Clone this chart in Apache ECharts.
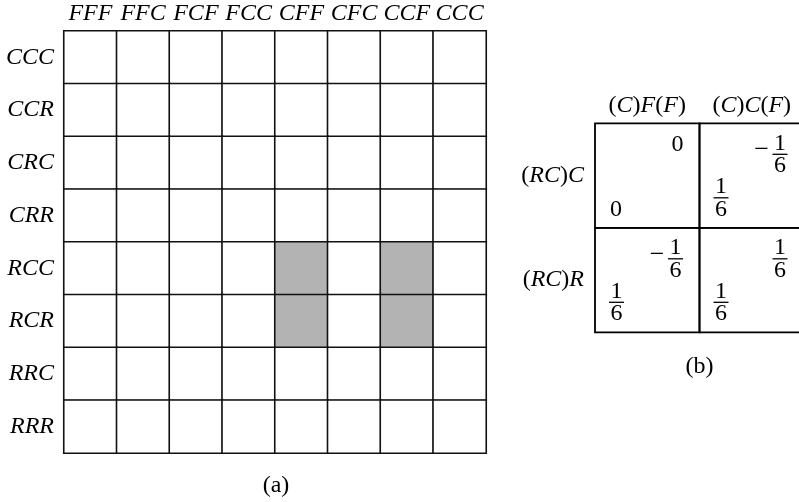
<!DOCTYPE html>
<html>
<head>
<meta charset="utf-8">
<script src="https://cdn.jsdelivr.net/npm/echarts@6/dist/echarts.min.js"></script>
<style>
html,body{margin:0;padding:0;background:#fff;}
#c{width:799px;height:502px;}
</style>
</head>
<body>
<div id="c"></div>
<script>
// ---- data ----
const colLabels = ['FFF','FFC','FCF','FCC','CFF','CFC','CCF','CCC'];
const rowLabels = ['CCC','CCR','CRC','CRR','RCC','RCR','RRC','RRR'];
const shadedCells = [[4,4],[6,4],[4,5],[6,5]]; // [column index, row index]

const bCols = ['(C)F(F)','(C)C(F)'];
const bRows = ['(RC)C','(RC)R'];
const rowPayoff = [['0','1/6'],['1/6','1/6']];   // lower-left entry of each cell
const colPayoff = [['0','-1/6'],['-1/6','1/6']]; // upper-right entry of each cell

const captions = ['(a)','(b)'];

// ---- build ----
const FONT = "'Liberation Serif', 'Times New Roman', serif";
const heatData = [];
for (let r = 0; r < rowLabels.length; r++) {
  for (let c = 0; c < colLabels.length; c++) {
    const s = shadedCells.some(p => p[0] === c && p[1] === r) ? 1 : 0;
    heatData.push([c, r, s]);
  }
}
const bData = [];
for (let r = 0; r < bRows.length; r++) for (let c = 0; c < bCols.length; c++) bData.push([c, r]);

const mathRich = {
  i: {fontFamily: FONT, fontStyle: 'italic', fontSize: 24, color: '#000'},
  p: {fontFamily: FONT, fontSize: 24, color: '#000'}
};
function mathFmt(s) {
  return s.replace(/([A-Z]+)/g, '{i|$1}').replace(/([()])/g, '{p|$1}');
}

function addEntry(children, str, cx, cy) {
  const m = str.match(/^(-?)(\d+)\/(\d+)$/);
  const ts = {fontFamily: FONT, fontSize: 24, fill: '#000', align: 'center', verticalAlign: 'middle'};
  if (!m) {
    children.push({type: 'text', x: cx, y: cy, style: Object.assign({text: str}, ts)});
    return;
  }
  const barY = cy;
  children.push({type: 'line', shape: {x1: cx - 7.5, y1: barY, x2: cx + 7.5, y2: barY}, style: {stroke: '#000', lineWidth: 1.3}});
  children.push({type: 'text', x: cx, y: barY - 11, style: Object.assign({text: m[2]}, ts)});
  children.push({type: 'text', x: cx, y: barY + 11.5, style: Object.assign({text: m[3]}, ts)});
  if (m[1] === '-') {
    children.push({type: 'text', x: cx - 11, y: barY - 4, style: Object.assign({}, ts, {text: '\u2212', align: 'right', fontSize: 26})});
  }
}

function renderB(params, api) {
  const c = api.value(0), r = api.value(1);
  const p = api.coord([c, r]);
  const sz = api.size([1, 1]);
  const left = p[0] - sz[0] / 2, top = p[1] - sz[1] / 2;
  const right = left + sz[0], bottom = top + sz[1];
  const children = [{type: 'rect', shape: {x: left, y: top, width: sz[0], height: sz[1]},
    style: {fill: 'none', stroke: '#000', lineWidth: 1.8}}];
  const ur = colPayoff[r][c], ll = rowPayoff[r][c];
  if (ur.indexOf('/') >= 0) addEntry(children, ur, right - 24, top + 31);
  else addEntry(children, ur, right - 22, top + 21);
  if (ll.indexOf('/') >= 0) addEntry(children, ll, left + 21.5, bottom - 30);
  else addEntry(children, ll, left + 21, bottom - 18);
  return {type: 'group', children};
}

const chart = echarts.init(document.getElementById('c'), null, {renderer: 'canvas'});
const labelA = {fontFamily: FONT, fontStyle: 'italic', fontSize: 24, color: '#000', interval: 0};
chart.setOption({
  animation: false,
  backgroundColor: '#fff',
  grid: [
    {left: 64, top: 31, width: 422, height: 422, outerBoundsMode: 'none', containLabel: false},
    {left: 595, top: 123.3, width: 209, height: 209, outerBoundsMode: 'none', containLabel: false}
  ],
  xAxis: [
    {type: 'category', gridIndex: 0, position: 'top', data: colLabels,
     axisLine: {show: false}, axisTick: {show: false}, splitLine: {show: false},
     axisLabel: Object.assign({margin: 5}, labelA)},
    {type: 'category', gridIndex: 1, position: 'top', data: bCols,
     axisLine: {show: false}, axisTick: {show: false}, splitLine: {show: false},
     axisLabel: {margin: 6, interval: 0, formatter: mathFmt, rich: mathRich}}
  ],
  yAxis: [
    {type: 'category', gridIndex: 0, inverse: true, data: rowLabels,
     axisLine: {show: false}, axisTick: {show: false}, splitLine: {show: false},
     axisLabel: Object.assign({margin: 10}, labelA)},
    {type: 'category', gridIndex: 1, inverse: true, data: bRows,
     axisLine: {show: false}, axisTick: {show: false}, splitLine: {show: false},
     axisLabel: {margin: 11, interval: 0, formatter: mathFmt, rich: mathRich}}
  ],
  visualMap: {show: false, type: 'piecewise', seriesIndex: 0, dimension: 2,
    pieces: [{value: 0, color: '#ffffff'}, {value: 1, color: '#b3b3b3'}]},
  series: [
    {type: 'heatmap', xAxisIndex: 0, yAxisIndex: 0, data: heatData,
     itemStyle: {borderColor: '#111', borderWidth: 1.6}, emphasis: {disabled: true}},
    {type: 'custom', xAxisIndex: 1, yAxisIndex: 1, data: bData, renderItem: renderB, silent: true}
  ],
  graphic: [
    {type: 'text', x: 276, y: 486, style: {text: captions[0], fontFamily: FONT, fontSize: 24, fill: '#000', align: 'center', verticalAlign: 'middle'}},
    {type: 'text', x: 699.5, y: 366.5, style: {text: captions[1], fontFamily: FONT, fontSize: 24, fill: '#000', align: 'center', verticalAlign: 'middle'}}
  ]
});
</script>
</body>
</html>
